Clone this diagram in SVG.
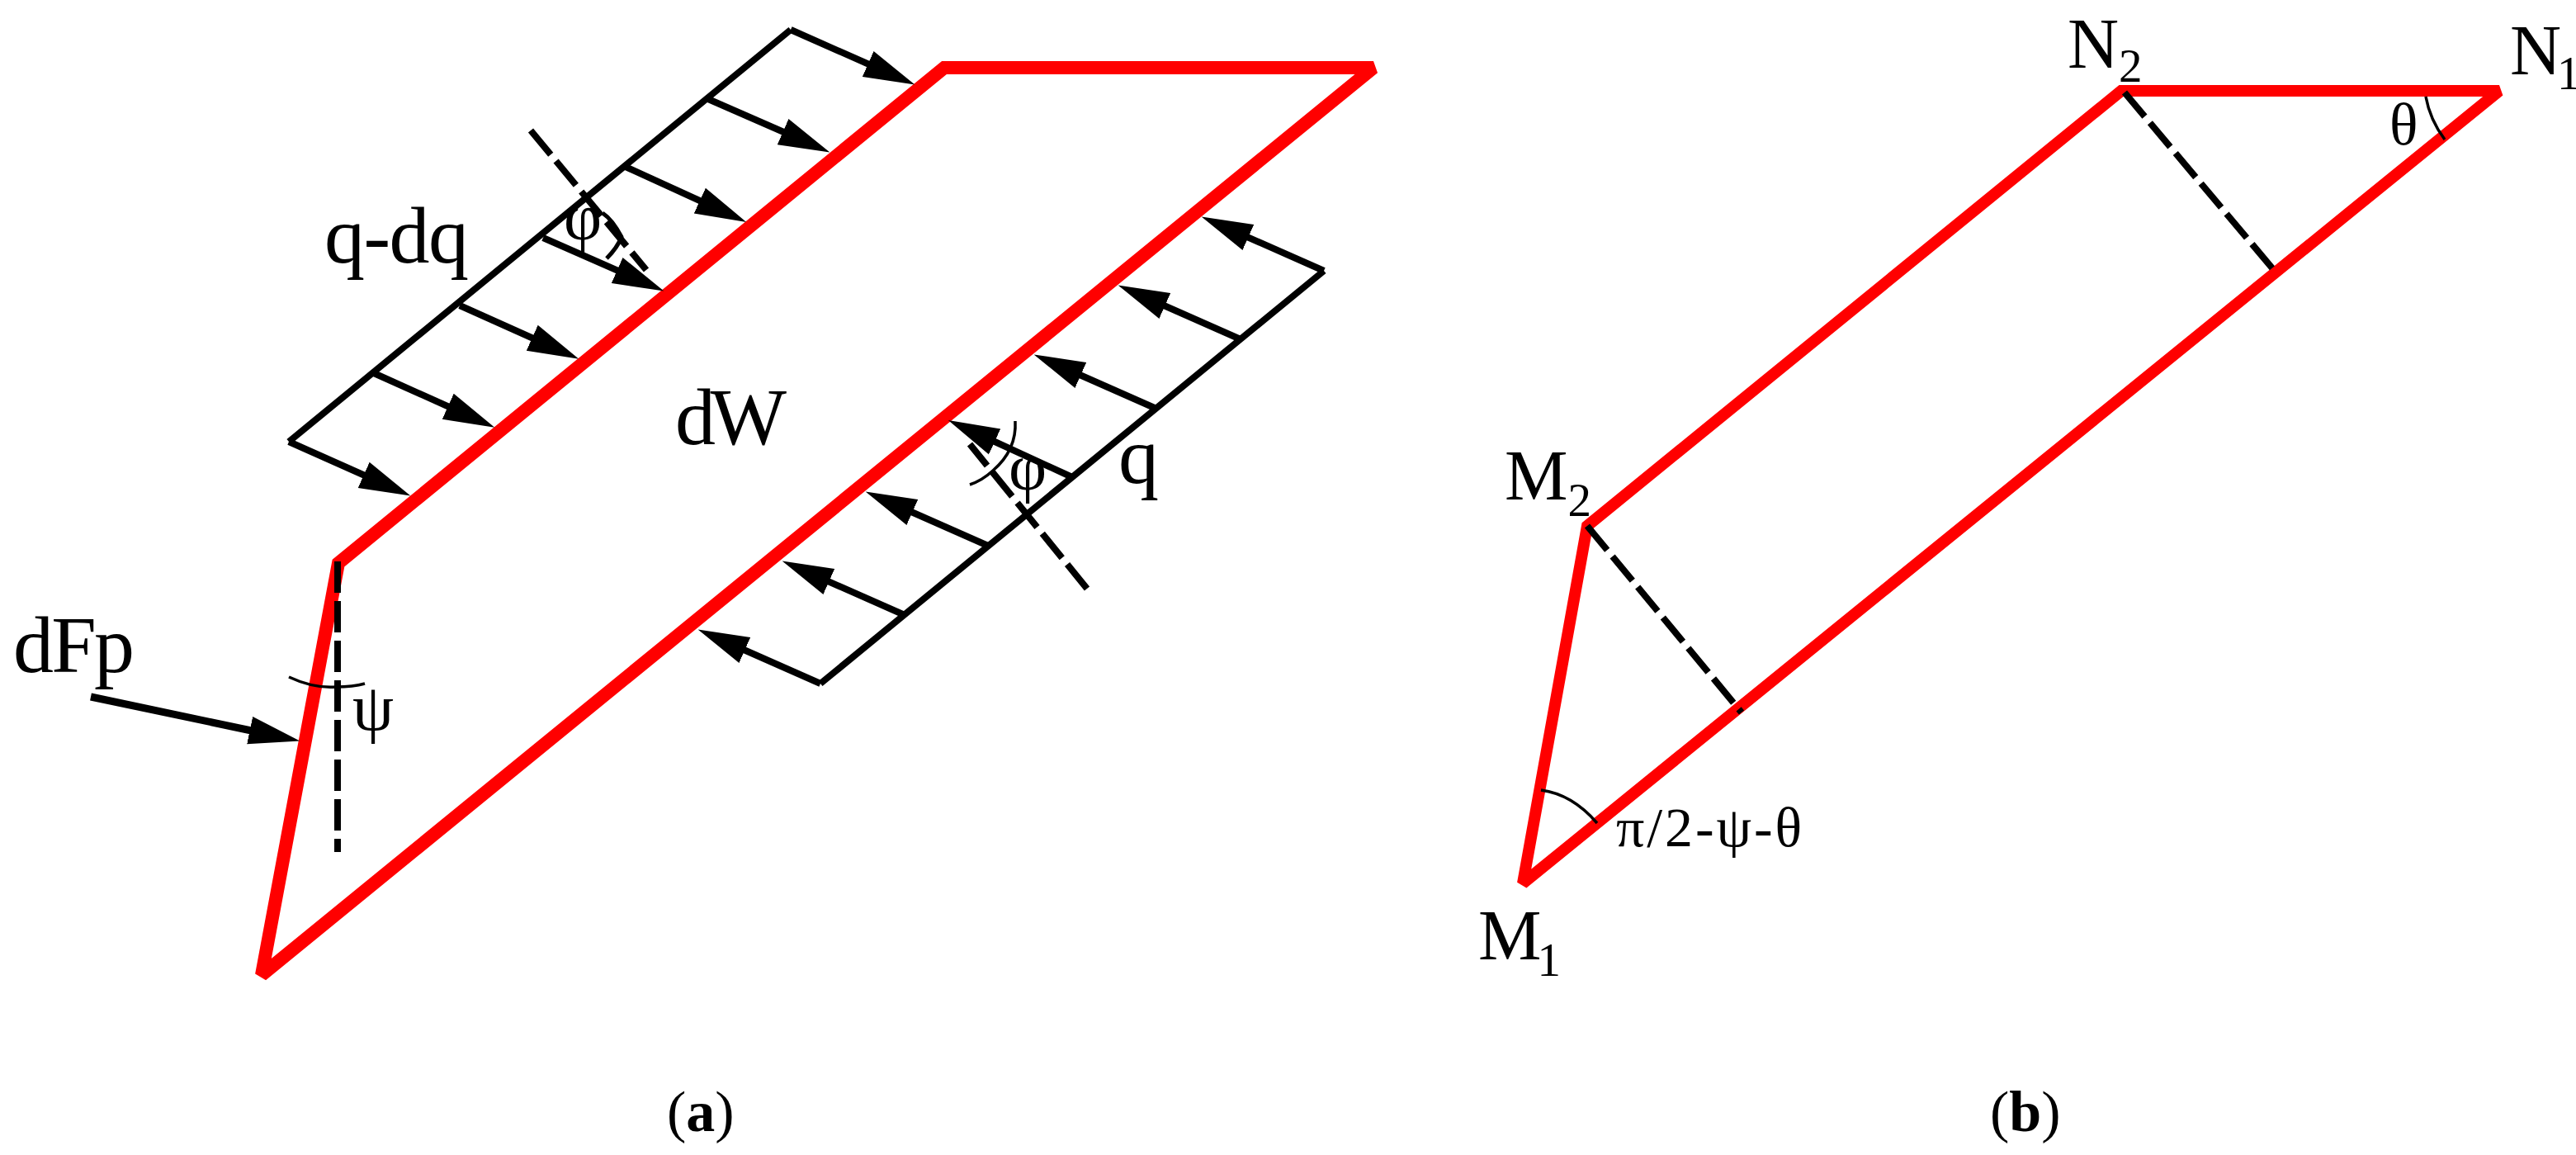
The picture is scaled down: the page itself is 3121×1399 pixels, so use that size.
<svg xmlns="http://www.w3.org/2000/svg" width="3121" height="1399" viewBox="0 0 3121 1399">
<style>
.red{fill:none;stroke:#f00;stroke-width:16;stroke-linejoin:miter;stroke-miterlimit:2}
.rb{stroke-width:14}
.bk{fill:none;stroke:#000;stroke-width:8;stroke-linecap:butt;stroke-linejoin:round}
.ar{fill:none;stroke:#000;stroke-width:8;marker-end:url(#head)}
.ds{fill:none;stroke:#000;stroke-width:8;stroke-dasharray:38 10}
.th{fill:none;stroke:#000;stroke-width:3.5}
text{font-family:"Liberation Serif","Times New Roman",serif;fill:#000}
.lb{font-size:98px}.an{font-size:68px}.gk{font-size:80px}.pt{font-size:86px}.sb{font-size:57px}.cap{font-size:70px}
</style>
<defs>
<marker id="head" markerUnits="userSpaceOnUse" markerWidth="62" markerHeight="36" viewBox="0 0 62 36" refX="31" refY="18" orient="auto"><path d="M0 1L62 18L0 35Z" fill="#000"/></marker>
</defs>
<rect width="3121" height="1399" fill="#fff"/>
<g id="panel-a-body"><polygon class="red" points="1144,82 1664,82 317,1181 410,682"/></g>
<g id="connectors">
<polyline class="bk" points="350,535 958,36"/>
<line class="ar" x1="958" y1="36" x2="1080" y2="90"/>
<line class="ar" x1="858" y1="120" x2="977" y2="172"/>
<line class="ar" x1="758" y1="202" x2="876" y2="256"/>
<line class="ar" x1="658" y1="288" x2="776" y2="340"/>
<line class="ar" x1="557" y1="370" x2="673" y2="422"/>
<line class="ar" x1="453" y1="452" x2="571" y2="505"/>
<line class="ar" x1="350" y1="535" x2="469" y2="588"/>
<polyline class="bk" points="994,828 1604,328"/>
<line class="ar" x1="994" y1="828" x2="874" y2="775"/>
<line class="ar" x1="1096" y1="745" x2="976" y2="692"/>
<line class="ar" x1="1197" y1="661" x2="1077" y2="608"/>
<line class="ar" x1="1299" y1="578" x2="1177" y2="522"/>
<line class="ar" x1="1401" y1="495" x2="1281" y2="442"/>
<line class="ar" x1="1503" y1="411" x2="1383" y2="358"/>
<line class="ar" x1="1604" y1="328" x2="1484" y2="275"/>
<line class="ds" x1="643" y1="158" x2="783" y2="327"/>
<line class="ds" x1="1317" y1="713" x2="1175" y2="538"/>
<line class="ds" x1="409" y1="680" x2="409" y2="1032"/>
<path class="bk" style="stroke-width:5" d="M730 258Q742 266 753 287Q748 300 735 313"/>
<path class="th" d="M1230 510Q1232 545 1203 570Q1190 582 1175 587"/>
<path class="th" d="M350 820Q380 834 407 832Q428 832 442 828"/>
<line class="ar" style="stroke-width:9" x1="110" y1="844" x2="333" y2="891"/>
</g>
<g id="label-a">
<text class="lb" x="393" y="318" textLength="175">q-dq</text>
<text class="lb" x="818" y="538" textLength="135">dW</text>
<text class="lb" x="1355" y="585">q</text>
<text class="lb" x="16" y="814" textLength="147">dFp</text>
<text class="gk" x="427" y="884">ψ</text>
<text class="gk" x="683" y="290">φ</text>
<text class="gk" x="1222" y="593">φ</text>
<text class="cap" x="808" y="1370">(<tspan font-weight="bold">a</tspan>)</text>
</g>
<g id="panel-b-body"><polygon class="red rb" points="2570,110 3028,110 1845,1070 1923,637"/></g>
<g id="connectors-b">
<line class="ds" x1="2574" y1="112" x2="2759" y2="332"/>
<line class="ds" x1="1923" y1="637" x2="2110" y2="863"/>
<path class="th" d="M2939 117Q2944 145 2962 169"/>
<path class="th" d="M1867 957Q1905 962 1935 997"/>
</g>
<g id="label-b">
<text class="pt" x="2505" y="82">N<tspan class="sb" dy="17">2</tspan></text>
<text class="pt" x="3041" y="90">N<tspan class="sb" dx="-5" dy="18">1</tspan></text>
<text class="pt" x="1823" y="605">M<tspan class="sb" dy="20">2</tspan></text>
<text class="pt" x="1791" y="1162">M<tspan class="sb" dx="-5" dy="20">1</tspan></text>
<text class="an" style="font-size:72px" x="2895" y="175">θ</text>
<text class="an" x="1958" y="1025" textLength="225">π/2-ψ-θ</text>
<text class="cap" x="2411" y="1370">(<tspan font-weight="bold">b</tspan>)</text>
</g>
</svg>
